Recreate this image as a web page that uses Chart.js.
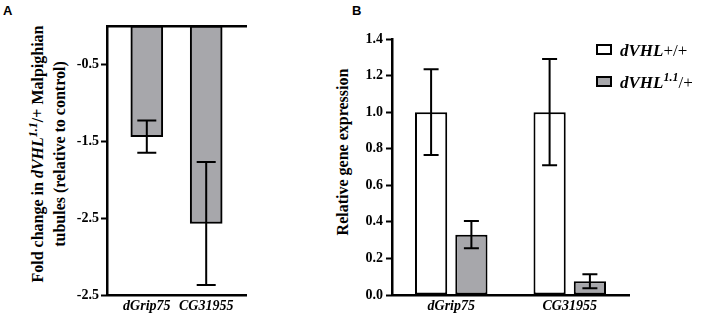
<!DOCTYPE html>
<html>
<head>
<meta charset="utf-8">
<script src="https://cdn.jsdelivr.net/npm/chart.js@4"></script>
<style>
  body { margin: 0; background: #fff; width: 701px; height: 318px; overflow: hidden; position: relative;
         font-family: 'Liberation Serif', 'Times New Roman', serif; }
  .box { position: absolute; top: 0; height: 318px; }
  .panel { position: absolute; font: bold 13px 'Liberation Sans', Arial, sans-serif; }
  .ytitle { position: absolute; font-weight: bold; font-size: 16px; line-height: 22px; white-space: nowrap;
            text-align: center; transform: translate(-50%, -50%) rotate(-90deg); }
  .ytitle sup { font-size: 12px; vertical-align: 6px; line-height: 0; }
  .leg { position: absolute; left: 596px; font-size: 17px; white-space: nowrap; }
  .leg .sw { display: inline-block; width: 12px; height: 7px; border: 2px solid #000; margin-right: 8px; vertical-align: 1px; }
  .leg sup { font-size: 12px; vertical-align: 7px; line-height: 0; }
  .leg .plain { font-weight: normal; }
</style>
</head>
<body>
<div class="panel" style="left:3px;top:3px;">A</div>
<div class="panel" style="left:352px;top:3px;">B</div>

<div class="ytitle" style="left:49px;top:154px;">Fold change in <i>dVHL<sup>1.1</sup></i>/+ Malpighian<br>tubules (relative to control)</div>
<div class="ytitle" style="left:343px;top:152px;">Relative gene expression</div>

<div class="box" style="left:50px;width:210px;"><canvas id="chartA"></canvas></div>
<div class="box" style="left:350px;width:351px;"><canvas id="chartB"></canvas></div>

<div class="leg" style="top:41px;"><span class="sw" style="background:#fff"></span><b><i>dVHL</i></b><span class="plain">+/+</span></div>
<div class="leg" style="top:73px;"><span class="sw" style="background:#a7a7ab"></span><b><i>dVHL<sup>1.1</sup></i></b><span class="plain">/+</span></div>

<script>
// panel A data
const genesA = ['dGrip75', 'CG31955'];
const foldA = [-1.44, -2.57];
const foldErrA = [0.21, 0.80];
const tickValsA = [-0.5, -1.5, -2.5, -3.5];
const tickLabelsA = ['-0.5', '-1.5', '-2.5', '-2.5'];

// panel B data
const genesB = ['dGrip75', 'CG31955'];
const wildB = [1.0, 1.0];
const wildErrB = [0.235, 0.29];
const mutB = [0.33, 0.075];
const mutErrB = [0.075, 0.038];
const tickLabelsB = ['0.0', '0.2', '0.4', '0.6', '0.8', '1.0', '1.2', '1.4'];

const serif = "'Liberation Serif', 'Times New Roman', serif";
const grey = '#a7a7ab';

// draws mean +/- error with caps, using the chart's own y scale
const errorBars = {
  id: 'errorBars',
  afterDatasetsDraw(chart) {
    const ctx = chart.ctx;
    const y = chart.scales.y;
    chart.data.datasets.forEach((ds, di) => {
      if (!ds.errors) return;
      const meta = chart.getDatasetMeta(di);
      meta.data.forEach((bar, i) => {
        const m = ds.means[i], e = ds.errors[i];
        const y1 = y.getPixelForValue(m + e);
        const y2 = y.getPixelForValue(m - e);
        const w = ds.capWidth / 2;
        ctx.save();
        ctx.strokeStyle = '#000';
        ctx.lineWidth = 2;
        ctx.beginPath();
        ctx.moveTo(bar.x, y1); ctx.lineTo(bar.x, y2);
        ctx.moveTo(bar.x - w, y1); ctx.lineTo(bar.x + w, y1);
        ctx.moveTo(bar.x - w, y2); ctx.lineTo(bar.x + w, y2);
        ctx.stroke();
        ctx.restore();
      });
    });
  }
};

Chart.defaults.font.family = serif;
Chart.defaults.color = '#000';

new Chart(document.getElementById('chartA'), {
  type: 'bar',
  data: {
    datasets: [{
      data: foldA.map((v, i) => ({ x: i + 1, y: v })),
      means: foldA,
      errors: foldErrA,
      capWidth: 19,
      backgroundColor: grey,
      borderColor: '#000',
      borderWidth: 2,
      borderSkipped: false,
      barThickness: 32
    }]
  },
  options: {
    responsive: true,
    maintainAspectRatio: false,
    animation: false,
    layout: { padding: { top: 26, right: 14, bottom: 0, left: 0 } },
    plugins: { legend: { display: false }, tooltip: { enabled: false } },
    scales: {
      x: {
        type: 'linear',
        offset: false,
        bounds: 'data',
        min: 0.33, max: 2.67,
        afterBuildTicks: s => { s.ticks = genesA.map((g, i) => ({ value: i + 1 })); },
        afterFit: s => { s.height = 23; },
        ticks: {
          callback: v => genesA[Math.round(v) - 1] || '',
          font: { size: 14, weight: 'bold', style: 'italic' },
          padding: 3, maxRotation: 0, autoSkip: false
        },
        grid: { drawOnChartArea: false, drawTicks: false, offset: false },
        border: { color: '#000', width: 2.5 }
      },
      x2: {
        type: 'linear', position: 'top', min: 0, max: 1, offset: false,
        afterFit: s => { s.height = 0; },
        ticks: { display: false },
        grid: { drawOnChartArea: false, drawTicks: false },
        border: { color: '#000', width: 2.5 }
      },
      y: {
        min: -3.5, max: 0,
        afterBuildTicks: s => { s.ticks = tickValsA.map(v => ({ value: v })); },
        afterFit: s => { s.width = 57; },
        ticks: {
          callback: (v, i) => tickLabelsA[i],
          font: { size: 14, weight: 'bold' },
          padding: 2
        },
        grid: { drawOnChartArea: false, tickLength: 6, tickColor: '#000', tickWidth: 2 },
        border: { color: '#000', width: 2.5 }
      }
    }
  },
  plugins: [errorBars]
});

new Chart(document.getElementById('chartB'), {
  type: 'bar',
  data: {
    labels: genesB,
    datasets: [{
      label: 'dVHL+/+',
      data: wildB,
      means: wildB,
      errors: wildErrB,
      capWidth: 15,
      backgroundColor: '#fff',
      borderColor: '#000',
      borderWidth: 2,
      borderSkipped: false
    }, {
      label: 'dVHL1.1/+',
      data: mutB,
      means: mutB,
      errors: mutErrB,
      capWidth: 15,
      backgroundColor: grey,
      borderColor: '#000',
      borderWidth: 2,
      borderSkipped: false
    }]
  },
  options: {
    responsive: true,
    maintainAspectRatio: false,
    animation: false,
    categoryPercentage: 0.68,
    barPercentage: 0.8,
    layout: { padding: { top: 39, right: 72, bottom: 0, left: 0 } },
    plugins: { legend: { display: false }, tooltip: { enabled: false } },
    scales: {
      x: {
        afterFit: s => { s.height = 23; },
        ticks: { font: { size: 14, weight: 'bold', style: 'italic' }, padding: 3, maxRotation: 0 },
        grid: { drawOnChartArea: false, drawTicks: false },
        border: { color: '#000', width: 2.5 }
      },
      y: {
        min: 0, max: 1.4,
        afterBuildTicks: s => { s.ticks = tickLabelsB.map(t => ({ value: parseFloat(t) })); },
        afterFit: s => { s.width = 42; },
        ticks: {
          callback: (v, i) => tickLabelsB[i],
          font: { size: 14, weight: 'bold' },
          padding: 3
        },
        grid: { drawOnChartArea: false, tickLength: 6, tickColor: '#000', tickWidth: 2 },
        border: { color: '#000', width: 2.5 }
      }
    }
  },
  plugins: [errorBars]
});
</script>
</body>
</html>
